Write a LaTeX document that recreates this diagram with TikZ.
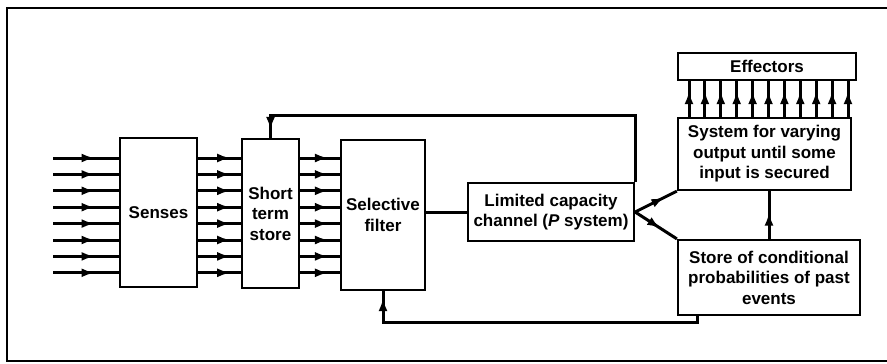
\documentclass[tikz,border=0pt]{standalone}
\usepackage{fontspec}
\setmainfont{Liberation Sans}
\usetikzlibrary{arrows.meta,decorations.markings}
\tikzset{
  caja/.style={draw, line width=2.2pt, inner sep=1pt, align=center,
    font=\bfseries\fontsize{17}{20.5}\selectfont},
  flujo/.style={line width=3pt, postaction={decorate},
    decoration={markings, mark=at position #1 with {\arrow{Latex[length=13pt,width=9pt]}}}},
  flujo/.default=0.7,
  linea/.style={line width=3pt}
}
\begin{document}
\begin{tikzpicture}[x=1pt,y=-1pt]
    \useasboundingbox (0,0) rectangle (887,364);
    % Marco
    \draw[line width=2.2pt] (887,8) -- (7,8) -- (7,361) -- (887,361);
    % Cajas
    \node[caja, minimum width=77pt, minimum height=149pt] (senses) at (158.5,212.5) {Senses};
    \node[caja, minimum width=57pt, minimum height=149pt] (sts) at (270.5,213.5) {Short\\term\\store};
    \node[caja, minimum width=84pt, minimum height=150pt] (filter) at (383,215) {Selective\\filter};
    \node[caja, minimum width=166pt, minimum height=58pt] (channel) at (551,212) {Limited capacity\\channel (\textit{P} system)};
    \node[caja, minimum width=173pt, minimum height=72pt] (varying) at (764.5,154) {System for varying\\output until some\\input is secured};
    \node[caja, minimum width=178pt, minimum height=27pt] (effectors) at (767,66.5) {Effectors};
    \node[caja, minimum width=182pt, minimum height=75pt] (store) at (769,277.5) {Store of conditional\\probabilities of past\\events};
    % Entradas y canales paralelos
    \coordinate (entrada) at (53,0);
    \foreach \i in {0,...,7} {
        \pgfmathsetmacro\y{158+16.4*\i}
        \draw[flujo=0.63] (entrada |- 0,\y) -- (senses.west |- 0,\y);
        \draw[flujo=0.75] (senses.east |- 0,\y) -- (sts.west |- 0,\y);
        \draw[flujo=0.7] (sts.east |- 0,\y) -- (filter.west |- 0,\y);
    }
    % Filtro al canal
    \draw[linea] (filter.east |- channel.west) -- (channel.west);
    % Salidas del canal
    \draw[flujo=0.7] (channel.east) -- (varying.south west);
    \draw[flujo=0.6] (channel.east) -- (store.north west);
    \draw[flujo=0.55] (store.north) -- (store.north |- varying.south);
    % Efectores
    \foreach \i in {0,...,10} {
        \pgfmathsetmacro\x{689+15.9*\i}
        \draw[flujo=0.72] (varying.north -| \x,0) -- (effectors.south -| \x,0);
    }
    % Realimentaciones
    \coordinate (arriba) at (0,115);
    \draw[flujo=-8pt] (channel.north east) -- (channel.north east |- arriba) -- (sts.north |- arriba) -- (sts.north);
    \coordinate (abajo) at (697,322);
    \draw[flujo=-7pt] (store.south -| abajo) -- (abajo) -- (filter.south |- abajo) -- (filter.south);
\end{tikzpicture}
\end{document}
